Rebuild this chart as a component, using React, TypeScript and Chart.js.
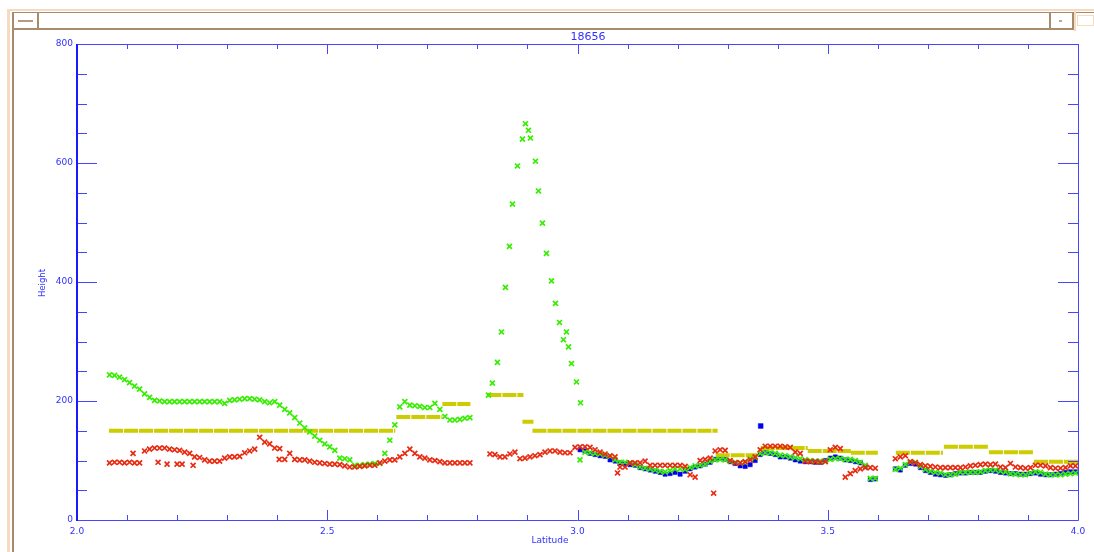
import { useEffect, useRef } from "react";
import { Chart, registerables } from "chart.js";

Chart.register(...registerables);

// Sampling grid of the along-track profiles (latitude of sample 0 and spacing).
const LAT_START = 2.065;
const LAT_STEP = 0.01;

// Heights sampled on the grid above; null = no retrieval at that latitude.
const greenHeight: (number | null)[] = [
  244, 243, 240, 236, 231, 225, 220, 212, 206, 201,
  200, 199, 199, 199, 199, 199, 199, 199, 199, 199,
  199, 199, 199, 196, 201, 202, 203, 204, 204, 203,
  202, 199, 197, 199, 193, 186, 180, 172, 163, 155,
  148, 141, 134, 128, 123, 117, 104, 103, 101, 92,
  92, 93, 94, 95, 95, 112, 134, 160, 190, 199,
  193, 192, 191, 189, 189, 196, 186, 174, 168, 168,
  169, 171, 172, null, null, null, null, null, null, null,
  null, null, null, null, null, null, null, null, null, null,
  null, null, null, null, 101, 114, 113, 112, 111, 109,
  107, 101, 97, 97, 96, 93, 89, 87, 86, 84,
  82, 81, 83, 86, 86, 85, 88, 91, 92, 94,
  99, 101, 102, 101, 99, 97, 96, 97, 103, 105,
  112, 113, 113, 112, 109, 108, 106, 105, 103, 101,
  100, 99, 99, 99, 102, 103, 103, 102, 102, 100,
  97, 92, 70, 70, null, null, null, 85, 87, 93,
  97, 97, 90, 85, 82, 80, 79, 76, 76, 77,
  80, 80, 80, 80, 81, 83, 84, 84, 82, 81,
  78, 77, 76, 76, 79, 81, 80, 77, 76, 76,
  76, 77, 78, 79,
];

const redHeight: (number | null)[] = [
  96, 97, 97, 96, 97, 96, 96, 116, 119, 121,
  121, 121, 119, 118, 117, 114, 112, 106, 105, 101,
  99, 99, 99, 104, 106, 106, 107, 113, 116, 119,
  139, 131, 128, 121, 120, 102, 112, 102, 101, 101,
  99, 97, 96, 95, 94, 94, 93, 91, 89, 89,
  90, 91, 92, 92, 96, 99, 101, 101, 106, 112,
  119, 112, 106, 104, 101, 100, 98, 96, 96, 96,
  96, 96, 96, null, null, null, 111, 110, 106, 106,
  111, 114, 103, 104, 106, 108, 110, 114, 116, 116,
  114, 113, 113, 122, 123, 123, 122, 118, 114, 111,
  108, 106, 89, 89, 96, 96, 96, 99, 92, 92,
  92, 92, 92, 92, 92, 90, 76, 72, 100, 102,
  104, 116, 118, 117, 100, 96, 96, 98, 101, 106,
  118, 124, 124, 124, 124, 123, 122, 114, 112, 99,
  98, 98, 97, 98, 118, 122, 120, 72, 78, 83,
  86, 88, 88, 87, null, null, null, 103, 106, 108,
  98, 96, 93, 91, 90, 89, 88, 88, 88, 88,
  88, 89, 91, 92, 93, 94, 93, 94, 89, 88,
  95, 89, 88, 87, 88, 92, 92, 91, 88, 87,
  87, 88, 91, 91,
];

const blueHeight: (number | null)[] = [
  null, null, null, null, null, null, null, null, null, null,
  null, null, null, null, null, null, null, null, null, null,
  null, null, null, null, null, null, null, null, null, null,
  null, null, null, null, null, null, null, null, null, null,
  null, null, null, null, null, null, null, null, null, null,
  null, null, null, null, null, null, null, null, null, null,
  null, null, null, null, null, null, null, null, null, null,
  null, null, null, null, null, null, null, null, null, null,
  null, null, null, null, null, null, null, null, null, null,
  null, null, null, null, 118, 116, 112, 110, 108, 107,
  101, 99, 96, 94, 93, 92, 88, 86, 84, 82,
  80, 77, 78, 80, 77, 82, 86, 89, 91, 94,
  97, 102, 104, 102, 98, 95, 91, 90, 93, 100,
  110, 113, 112, 110, 106, 106, 104, 101, 99, 98,
  98, 97, 97, 100, 104, 106, 104, 101, 100, 98,
  96, 90, 68, 69, null, null, null, 86, 84, 92,
  95, 94, 88, 83, 80, 77, 76, 75, 76, 78,
  79, 79, 80, 80, 80, 82, 83, 82, 80, 79,
  78, 78, 77, 77, 78, 79, 77, 76, 76, 77,
  78, 80, 81, 81,
];

// Off-grid retrievals as [latitude, height].
const greenPeak: [number, number][] = [
  [2.822, 210], [2.830, 230], [2.840, 265], [2.848, 316], [2.856, 391],
  [2.864, 460], [2.870, 531], [2.880, 595], [2.890, 640], [2.896, 666],
  [2.902, 655], [2.906, 642], [2.916, 603], [2.922, 553], [2.930, 499],
  [2.938, 448], [2.948, 402], [2.956, 364], [2.964, 332], [2.972, 303],
  [2.978, 316], [2.982, 291], [2.988, 263], [2.998, 232], [3.006, 197],
];

const redExtra: [number, number][] = [
  [2.112, 112], [2.162, 97], [2.18, 94], [2.2, 94], [2.21, 94],
  [2.232, 92], [2.404, 102], [3.08, 79], [3.272, 45],
];

const blueExtra: [number, number][] = [[3.366, 158]];

// Piecewise-constant reference level: segment start, end and height.
const yellowFrom = [2.064, 2.638, 2.730, 2.820, 2.890, 2.910, 3.276, 3.366, 3.460, 3.546, 3.636, 3.732, 3.822, 3.912];
const yellowTo = [2.636, 2.730, 2.786, 2.892, 2.912, 3.280, 3.360, 3.460, 3.546, 3.600, 3.730, 3.822, 3.912, 4.000];
const yellowHeight = [150, 173, 195, 210, 165, 150, 109, 121, 116, 113, 113, 123, 114, 98];

// Axis ranges and ticks.
const X_MIN = 2.0;
const X_MAX = 4.0;
const X_MAJOR = 0.5;
const X_MINOR = 0.1;
const Y_MIN = 0;
const Y_MAX = 800;
const Y_MAJOR = 200;
const Y_MINOR = 50;

const AXIS_BLUE = "#4646ff";
const TEXT_BLUE = "#3030ff";

function gridPoints(values: (number | null)[]) {
  const pts: { x: number; y: number }[] = [];
  values.forEach((v, i) => {
    if (v !== null) pts.push({ x: +(LAT_START + i * LAT_STEP).toFixed(3), y: v });
  });
  return pts;
}

function pairPoints(pairs: [number, number][]) {
  return pairs.map(([x, y]) => ({ x, y }));
}

function yellowPoints() {
  const pts: { x: number; y: number | null }[] = [];
  yellowFrom.forEach((from, k) => {
    pts.push({ x: from, y: yellowHeight[k] });
    pts.push({ x: yellowTo[k], y: yellowHeight[k] });
    pts.push({ x: yellowTo[k], y: null });
  });
  return pts;
}

// Box frame with inward ticks on all four sides.
const frameTicks = {
  id: "frameTicks",
  afterDatasetsDraw(chart: any) {
    const { ctx, chartArea: a, scales } = chart;
    const xs = scales.x;
    const ys = scales.y;
    ctx.save();
    ctx.strokeStyle = AXIS_BLUE;
    ctx.lineWidth = 1;
    ctx.beginPath();
    ctx.moveTo(a.left, a.top + 0.5);
    ctx.lineTo(a.right + 0.5, a.top + 0.5);
    ctx.lineTo(a.right + 0.5, a.bottom + 0.5);
    ctx.lineTo(a.left, a.bottom + 0.5);
    ctx.stroke();
    const nx = Math.round((X_MAX - X_MIN) / X_MINOR);
    for (let i = 0; i <= nx; i++) {
      const v = X_MIN + i * X_MINOR;
      const major = Math.abs(v / X_MAJOR - Math.round(v / X_MAJOR)) < 1e-6;
      const len = major ? 10 : 5;
      const px = Math.round(xs.getPixelForValue(v)) + 0.5;
      ctx.beginPath();
      ctx.moveTo(px, a.bottom);
      ctx.lineTo(px, a.bottom - len);
      ctx.moveTo(px, a.top);
      ctx.lineTo(px, a.top + len);
      ctx.stroke();
    }
    const ny = Math.round((Y_MAX - Y_MIN) / Y_MINOR);
    for (let i = 0; i <= ny; i++) {
      const v = Y_MIN + i * Y_MINOR;
      const len = v % Y_MAJOR === 0 ? 20 : 10;
      const py = Math.round(ys.getPixelForValue(v)) + 0.5;
      ctx.beginPath();
      ctx.moveTo(a.left, py);
      ctx.lineTo(a.left + len, py);
      ctx.moveTo(a.right, py);
      ctx.lineTo(a.right - len, py);
      ctx.stroke();
    }
    ctx.strokeStyle = "#1a1aff";
    ctx.lineWidth = 2;
    ctx.beginPath();
    ctx.moveTo(a.left, a.top);
    ctx.lineTo(a.left, a.bottom + 1);
    ctx.stroke();
    ctx.restore();
  },
};

const markerBase = {
  showLine: false,
  pointStyle: "crossRot" as const,
  pointRadius: 3.5,
  pointBorderWidth: 1.7,
  pointHoverRadius: 3.5,
};

function ChartCanvas() {
  const ref = useRef<HTMLCanvasElement | null>(null);
  useEffect(() => {
    if (!ref.current) return;
    const red = "#e82a10";
    const green = "#36ee00";
    const blue = "#0000ee";
    const yellow = "#cccc00";
    const chart = new Chart(ref.current, {
      type: "scatter",
      data: {
        datasets: [
          { ...markerBase, label: "red", data: gridPoints(redHeight), borderColor: red, backgroundColor: red, order: 0 },
          { ...markerBase, label: "red extra", data: pairPoints(redExtra), borderColor: red, backgroundColor: red, order: 0 },
          { ...markerBase, label: "green", data: gridPoints(greenHeight), borderColor: green, backgroundColor: green, order: 1 },
          { ...markerBase, label: "green peak", data: pairPoints(greenPeak), borderColor: green, backgroundColor: green, order: 1 },
          {
            label: "yellow",
            data: yellowPoints() as any,
            showLine: true,
            spanGaps: false,
            borderColor: yellow,
            backgroundColor: yellow,
            borderWidth: 4,
            borderDash: [14, 1],
            borderCapStyle: "butt",
            pointRadius: 0,
            pointHoverRadius: 0,
            order: 2,
          },
          {
            label: "blue",
            data: gridPoints(blueHeight),
            showLine: false,
            pointStyle: "rect",
            pointRadius: 3,
            pointBorderWidth: 0.5,
            borderColor: blue,
            backgroundColor: blue,
            order: 3,
          },
          {
            label: "blue extra",
            data: pairPoints(blueExtra),
            showLine: false,
            pointStyle: "rect",
            pointRadius: 3.4,
            pointBorderWidth: 0.5,
            borderColor: blue,
            backgroundColor: blue,
            order: 3,
          },
        ],
      },
      options: {
        responsive: false,
        animation: false,
        devicePixelRatio: 1,
        layout: { padding: { left: 0, right: 16, top: 44, bottom: 0 } },
        plugins: {
          legend: { display: false },
          tooltip: { enabled: false },
          title: { display: false },
        },
        events: [],
        scales: {
          x: {
            type: "linear",
            min: X_MIN,
            max: X_MAX,
            grid: { display: false, drawTicks: false },
            border: { display: false },
            ticks: {
              stepSize: X_MAJOR,
              autoSkip: false,
              maxRotation: 0,
              padding: 6,
              color: TEXT_BLUE,
              font: { family: "DejaVu Sans", size: 9 },
              callback: (v: any) => Number(v).toFixed(1),
            },
            afterFit: (s: any) => {
              s.height = 32;
            },
          },
          y: {
            type: "linear",
            min: Y_MIN,
            max: Y_MAX,
            grid: { display: false, drawTicks: false },
            border: { display: false },
            ticks: {
              stepSize: Y_MAJOR,
              padding: 4,
              color: TEXT_BLUE,
              font: { family: "DejaVu Sans", size: 9 },
              callback: (v: any) => String(v),
            },
            afterFit: (s: any) => {
              s.width = 77;
            },
          },
        },
      },
      plugins: [frameTicks],
    });
    return () => chart.destroy();
  }, []);
  return (
    <canvas
      ref={ref}
      width={1094}
      height={552}
      style={{ position: "absolute", left: 0, top: 0, width: 1094, height: 552 }}
    />
  );
}

const beige = "#f5dbc0";
const brown = "#a88a6c";

function Bar(props: { l: number; t: number; w: number; h: number; c: string }) {
  return (
    <div
      style={{
        position: "absolute",
        left: props.l,
        top: props.t,
        width: props.w,
        height: props.h,
        background: props.c,
      }}
    />
  );
}

export default function App() {
  return (
    <div
      style={{
        position: "fixed",
        left: 0,
        top: 0,
        width: 1094,
        height: 552,
        background: "#ffffff",
        overflow: "hidden",
        fontFamily: "'DejaVu Sans', sans-serif",
      }}
    >
      {/* window frame */}
      <Bar l={7} t={9} w={1087} h={2} c={beige} />
      <Bar l={7} t={9} w={3} h={543} c={beige} />
      <Bar l={12} t={12} w={1082} h={1} c={brown} />
      <Bar l={12} t={12} w={1.5} h={540} c={brown} />
      <Bar l={12} t={28} w={1062} h={1.5} c={brown} />
      <Bar l={37} t={12} w={1.5} h={17} c={brown} />
      <Bar l={18} t={20} w={15} h={1.5} c="#b39a82" />
      <Bar l={1049} t={12} w={1.5} h={17} c={brown} />
      <Bar l={1059} t={20} w={3} h={2} c="#b8a898" />
      <Bar l={1072} t={12} w={1.5} h={17} c={brown} />
      <Bar l={1074} t={9} w={2} h={22} c={beige} />
      <div
        style={{
          position: "absolute",
          left: 1077,
          top: 15,
          width: 15,
          height: 9,
          border: `1px solid ${beige}`,
        }}
      />
      <ChartCanvas />
      <div
        style={{
          position: "absolute",
          left: 538,
          top: 31,
          width: 100,
          textAlign: "center",
          fontSize: 11,
          lineHeight: "12px",
          color: TEXT_BLUE,
        }}
      >
        18656
      </div>
      <div
        style={{
          position: "absolute",
          left: 500,
          top: 535,
          width: 100,
          textAlign: "center",
          fontSize: 9,
          lineHeight: "11px",
          color: TEXT_BLUE,
        }}
      >
        Latitude
      </div>
      <div
        style={{
          position: "absolute",
          left: 12,
          top: 277,
          width: 60,
          textAlign: "center",
          fontSize: 8.5,
          lineHeight: "12px",
          color: TEXT_BLUE,
          transform: "rotate(-90deg)",
        }}
      >
        Height
      </div>
    </div>
  );
}
